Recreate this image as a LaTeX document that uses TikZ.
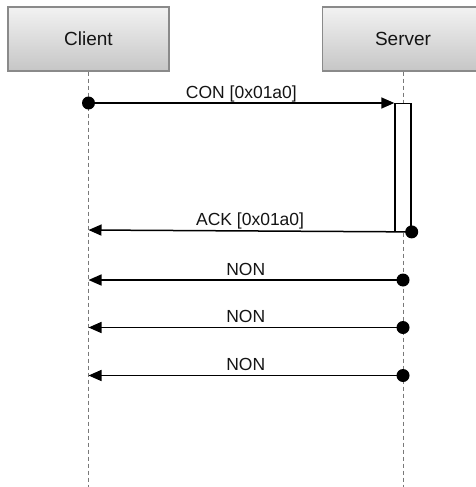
\documentclass[tikz,border=0pt]{standalone}
\usepackage{fontspec}
\setmainfont{Liberation Sans}
\usetikzlibrary{arrows.meta}
\definecolor{boxedge}{HTML}{8A8A8A}
\definecolor{boxtop}{HTML}{F2F2F2}
\definecolor{boxbot}{HTML}{C6C6C6}
\definecolor{inktext}{HTML}{141414}
\tikzset{
  actor/.style={draw=boxedge, line width=1.2pt, rectangle,
    minimum width=161pt, minimum height=64pt, inner sep=0pt,
    top color=boxtop, bottom color=boxbot, text=inktext,
    font=\fontsize{19}{19}\selectfont},
  lifeline/.style={draw=gray!95!black, line width=0.9pt, dash pattern=on 4pt off 3pt},
  activation/.style={draw=black, fill=white, line width=1.4pt, rectangle,
    minimum width=16pt, minimum height=127.5pt, inner sep=0pt, anchor=north},
  msg/.style={draw=black, line width=1.5pt, -{Triangle[length=13pt,width=11pt]}},
  msglabel/.style={anchor=base, yshift=5pt, inner sep=0pt, text=inktext,
    font=\fontsize{17.5}{17.5}\selectfont},
  enddot/.style={fill=black},
}
\begin{document}
\begin{tikzpicture}[x=1pt, y=-1pt]
  \useasboundingbox (0,0) rectangle (476,487);
  \clip (0,0) rectangle (476,487);

  % participants
  \node[actor] (client) at (88.5,39) {\raisebox{-3pt}{Client}};
  \node[actor] (server) at (403,39) {\raisebox{-3pt}{Server}};

  % lifeline ends
  \coordinate (clientend) at (88.5,490);
  \coordinate (serverend) at (403,490);
  \draw[lifeline] (client.south) -- (clientend);
  \draw[lifeline] (server.south) -- (serverend);

  % message anchor points on the lifelines
  \coordinate (c1) at (88.5,103);
  \coordinate (c2) at (88.5,230);
  \coordinate (c3) at (88.5,280);
  \coordinate (c4) at (88.5,327.5);
  \coordinate (c5) at (88.5,375.5);
  \coordinate (s3) at (403,280);
  \coordinate (s4) at (403,327.5);
  \coordinate (s5) at (403,375.5);

  % activation bar on the server
  \node[activation] (act) at (403,103) {};
  \coordinate (ackstart) at (act.south east);

  % CON request
  \draw[msg] (c1) -- (act.north west)
    node[msglabel, midway] (conlbl) {CON [0x01a0]};
  \fill[enddot] (c1) circle (6.5pt);

  % ACK reply
  \draw[msg] (ackstart) -- (c2)
    node[msglabel, midway] (acklbl) {ACK [0x01a0]};
  \fill[enddot] (ackstart) circle (6.5pt);

  % non-confirmable messages
  \draw[msg] (s3) -- (c3) node[msglabel, midway] (non1) {NON};
  \fill[enddot] (s3) circle (6.5pt);
  \draw[msg] (s4) -- (c4) node[msglabel, midway] (non2) {NON};
  \fill[enddot] (s4) circle (6.5pt);
  \draw[msg] (s5) -- (c5) node[msglabel, midway] (non3) {NON};
  \fill[enddot] (s5) circle (6.5pt);
\end{tikzpicture}
\end{document}
